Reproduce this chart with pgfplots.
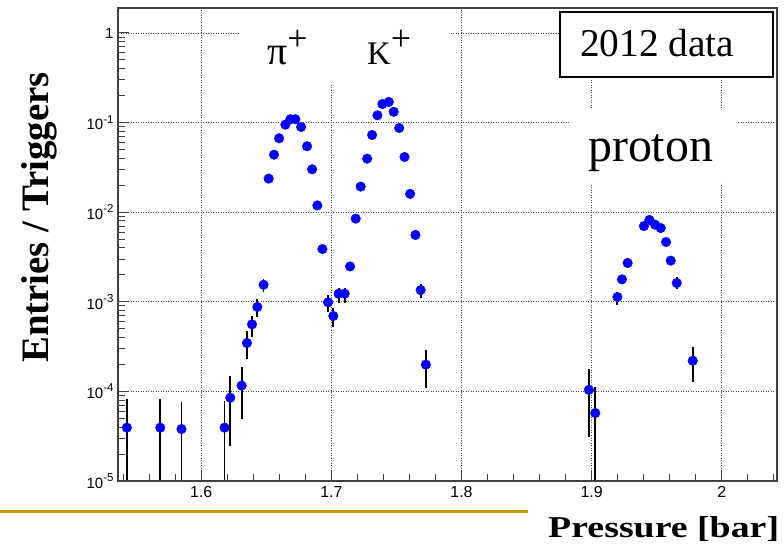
\documentclass[border=0pt]{standalone}
\usepackage{pgfplots}
\pgfplotsset{compat=1.18}
\usepackage{pgfplotstable}
\usepackage{graphicx}
\usepackage{fontspec}
\setmainfont{Liberation Serif}
\newfontfamily\sansf{Liberation Sans}
\definecolor{gold}{RGB}{200,150,0}
\newcommand{\ex}[1]{\raisebox{0.45em}{\fontsize{11.5}{11.5}\selectfont #1}}

\pgfplotstableread{
x       y        ep       em
1.5428  3.94e-5  4.26e-5  3.93e-5
1.5685  3.94e-5  4.26e-5  3.93e-5
1.5848  3.80e-5  3.90e-5  3.79e-5
1.6179  3.94e-5  3.96e-5  3.93e-5
1.6223  8.50e-5  6.50e-5  6.02e-5
1.6310  1.16e-4  7.00e-5  6.70e-5
1.6351  3.47e-4  1.25e-4  1.17e-4
1.6390  5.60e-4  1.40e-4  1.60e-4
1.6431  8.75e-4  1.95e-4  1.95e-4
1.6479  1.55e-3  2.50e-4  2.50e-4
1.6518  0.0237   0        0
1.6559  0.0438   0        0
1.6598  0.0668   0        0
1.6646  0.0948   0        0
1.6685  0.109    0        0
1.6723  0.109    0        0
1.6767  0.0893   0        0
1.6813  0.0544   0        0
1.6852  0.0301   0        0
1.6892  0.0119   0        0
1.6931  0.00388  0        0
1.6975  9.87e-4  2.00e-4  2.10e-4
1.7015  6.95e-4  1.65e-4  1.70e-4
1.7056  1.23e-3  1.90e-4  2.50e-4
1.7102  1.23e-3  1.90e-4  2.50e-4
1.7144  2.48e-3  2.00e-4  2.00e-4
1.7187  8.47e-3  0        0
1.7225  0.0193   0        0
1.7275  0.0396   0        0
1.7313  0.0727   0        0
1.7354  0.1205   0        0
1.7392  0.161    0        0
1.7441  0.170    0        0
1.7479  0.132    0        0
1.7521  0.087    0        0
1.7562  0.0413   0        0
1.7605  0.0160   0        0
1.7646  0.00557  0        0
1.7686  1.35e-3  2.40e-4  2.60e-4
1.7726  1.99e-4  0.90e-4  0.91e-4
1.8979  1.04e-4  7.40e-5  7.30e-5
1.9028  5.74e-5  5.60e-5  5.73e-5
1.9198  1.13e-3  1.70e-4  2.10e-4
1.9233  1.78e-3  1.50e-4  1.50e-4
1.9277  2.71e-3  0        0
1.9402  7.00e-3  0        0
1.9444  8.20e-3  0        0
1.9487  7.26e-3  0        0
1.9531  6.66e-3  0        0
1.9572  4.65e-3  0        0
1.9608  2.88e-3  0        0
1.9654  1.62e-3  2.80e-4  2.40e-4
1.9777  2.20e-4  0.95e-4  0.92e-4
}\data

\begin{document}
\begin{tikzpicture}[x=1bp,y=1bp]
\path[use as bounding box] (0,0) rectangle (784,554);
\begin{axis}[
  at={(118bp,73bp)}, anchor=south west,
  scale only axis, width=659bp, height=473bp,
  xmin=1.536, xmax=2.0425,
  ymode=log, ymin=1e-5, ymax=1.9,
  xtick={1.6,1.7,1.8,1.9,2.0},
  xticklabels={1.6,1.7,1.8,1.9,2},
  minor xtick={1.54,1.56,1.58,1.62,1.64,1.66,1.68,1.72,1.74,1.76,1.78,1.82,1.84,1.86,1.88,1.92,1.94,1.96,1.98,2.02,2.04},
  ytick={1e-5,1e-4,1e-3,1e-2,1e-1,1},
  yticklabels={10\ex{-5},10\ex{-4},10\ex{-3},10\ex{-2},10\ex{-1},1},
  minor ytick={2e-5,3e-5,4e-5,5e-5,6e-5,7e-5,8e-5,9e-5,
               2e-4,3e-4,4e-4,5e-4,6e-4,7e-4,8e-4,9e-4,
               2e-3,3e-3,4e-3,5e-3,6e-3,7e-3,8e-3,9e-3,
               2e-2,3e-2,4e-2,5e-2,6e-2,7e-2,8e-2,9e-2,
               0.2,0.3,0.4,0.5,0.6,0.7,0.8,0.9},
  tick align=inside, xtick pos=left, ytick pos=left,
  major tick length=11bp, minor tick length=7bp,
  tick style={line width=1bp, black!75},
  axis line style={line width=1.2bp, black!75},
  grid=major,
  major grid style={line width=0.8bp, black!70, dash pattern=on 1bp off 1.5bp},
  minor grid style={draw=none},
  /pgf/number format/assume math mode=true,
  xticklabel style={font=\sansf\fontsize{16}{16}\selectfont, yshift=-2bp},
  yticklabel style={font=\sansf\fontsize{15}{15}\selectfont, xshift=-1bp},
]
\addplot[only marks, mark=*, mark size=4.8bp, color=blue,
  error bars/.cd, y dir=both, y explicit, error mark=none,
  error bar style={black, line width=1.8bp}]
  table[x=x, y=y, y error plus=ep, y error minus=em] {\data};
\end{axis}
% white backgrounds of the labels
\fill[white] (240,469) rectangle (450,545);
\fill[white] (570,371) rectangle (738,444);
\fill[white] (560,475) rectangle (773,545);
% redraw frame
\draw[line width=1.2bp, black!75] (118,73) rectangle (777,546);
% labels
\node[anchor=base west, inner sep=0, font=\fontsize{40}{40}\selectfont] at (267,489) {π\raisebox{14bp}{\fontsize{36}{36}\selectfont +}};
\node[anchor=base west, inner sep=0, font=\fontsize{33}{33}\selectfont] at (367,489) {K\raisebox{14bp}{\fontsize{36}{36}\selectfont +}};
\node[anchor=base west, inner sep=0, font=\fontsize{48}{48}\selectfont] at (588,392) {proton};
\draw[line width=1.5bp, black] (560,477) rectangle (773,542);
\node[anchor=base west, inner sep=0, font=\fontsize{39.5}{39.5}\selectfont] at (580,497) {2012 data};
\node[rotate=90, anchor=base, inner sep=0, font=\bfseries\fontsize{39}{39}\selectfont] at (48,336.5) {Entries / Triggers};
\node[anchor=base west, inner sep=0, font=\bfseries\fontsize{38}{38}\selectfont] at (548,16) {\scalebox{1}[0.8]{Pressure [bar]}};
\draw[line width=3.3bp, gold] (0,42.3) -- (527.7,42.3);
\end{tikzpicture}
\end{document}
